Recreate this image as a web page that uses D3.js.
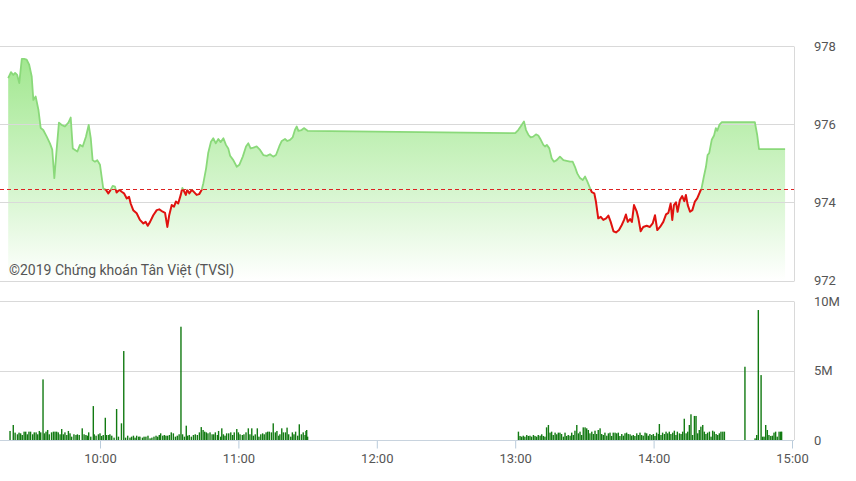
<!DOCTYPE html>
<html>
<head>
<meta charset="utf-8">
<script src="https://cdn.jsdelivr.net/npm/d3@7/dist/d3.min.js"></script>
<style>
  html, body { margin: 0; padding: 0; background: #fff; }
  svg { display: block; }
  text { font-family: Roboto, "Liberation Sans", sans-serif; }
</style>
</head>
<body>
<svg id="chart" width="856" height="481"></svg>
<script>
// ---- DATA (times are minutes after 09:00) ----
const referenceLevel = 974.33;

const priceTimes = [
  20.2, 21.4, 22.4, 23.2, 24.1, 25.0, 26.1, 27.1, 28.2, 29.3, 30.4, 31.1, 32.1, 33.3, 34.3, 35.4, 36.9, 38.3, 39.3, 40.2,
  41.2, 42.2, 43.4, 44.8, 46.3, 47.3, 48.2, 49.2, 50.2, 51.3, 52.5, 53.9, 55.1, 56.0, 56.8, 57.8, 58.8, 60.0, 60.7, 61.4,
  62.6, 63.6, 64.6, 65.5, 66.5, 67.2, 68.4, 69.4, 70.4, 71.6, 72.6, 73.3, 74.4, 75.9, 77.3, 78.8, 79.8, 80.7, 81.7, 83.1,
  84.6, 85.7, 87.2, 88.2, 89.2, 90.0, 91.1, 92.1, 92.9, 93.9, 95.0, 95.7, 96.4, 97.2, 97.8, 98.7, 99.8, 100.8, 101.9, 103.0,
  104.1, 104.8, 106.0, 106.9, 108.1, 109.1, 110.2, 111.3, 112.3, 113.5, 114.6, 115.6, 116.4, 117.8, 119.3, 120.4, 121.9, 123.3, 124.3, 125.3,
  126.5, 127.9, 129.4, 130.8, 132.3, 133.7, 135.1, 136.3, 137.7, 138.8, 140.2, 141.2, 142.4, 143.5, 144.5, 145.3, 146.0, 147.4, 148.4, 150.0,
  240.0, 241.3, 242.8, 243.8, 244.7, 245.7, 246.7, 247.8, 249.0, 250.0, 251.1, 252.2, 252.9, 253.7, 254.8, 255.8, 256.8, 258.0, 259.4, 260.9,
  262.3, 263.8, 264.9, 265.9, 266.9, 268.1, 269.3, 270.3, 271.3, 272.4, 273.2, 274.3, 275.0, 276.0, 277.1, 278.2, 279.4, 280.4, 281.4, 282.6,
  283.7, 285.0, 286.2, 287.2, 288.0, 288.8, 289.8, 290.6, 291.5, 292.7, 293.4, 294.4, 295.5, 297.0, 298.4, 299.6, 300.6, 301.6, 302.8, 304.2,
  305.4, 306.4, 307.4, 308.1, 308.8, 309.7, 310.4, 311.4, 312.4, 313.3, 314.0, 314.8, 315.8, 316.8, 317.9, 318.9, 320.1, 320.8, 321.8, 322.7,
  323.4, 324.1, 325.2, 326.2, 327.0, 327.6, 328.5, 329.5, 343.9, 344.9, 345.7, 357.0
];
const priceValues = [
  977.18, 977.33, 977.26, 977.31, 977.26, 977.05, 977.67, 977.67, 977.65, 977.52, 977.22, 976.62, 976.71, 976.37, 975.90, 975.85, 975.68, 975.51, 975.35, 974.62,
  975.35, 976.04, 975.98, 975.94, 976.04, 976.17, 975.38, 975.34, 975.30, 975.47, 975.43, 975.68, 975.98, 975.64, 975.08, 975.04, 975.08, 974.96, 974.66, 974.36,
  974.32, 974.23, 974.32, 974.42, 974.40, 974.25, 974.32, 974.27, 974.23, 974.10, 974.14, 973.97, 973.80, 973.72, 973.55, 973.46, 973.50, 973.40, 973.50, 973.67,
  973.80, 973.82, 973.76, 973.73, 973.37, 973.67, 973.93, 973.89, 974.02, 973.97, 974.19, 974.37, 974.29, 974.19, 974.32, 974.23, 974.32, 974.26, 974.19, 974.21,
  974.32, 974.49, 974.87, 975.26, 975.55, 975.64, 975.51, 975.62, 975.54, 975.64, 975.47, 975.38, 975.19, 975.08, 974.91, 974.96, 975.17, 975.43, 975.51, 975.38,
  975.40, 975.43, 975.34, 975.21, 975.19, 975.23, 975.17, 975.21, 975.43, 975.57, 975.62, 975.57, 975.60, 975.66, 975.85, 975.94, 975.83, 975.85, 975.90, 975.83,
  975.77, 975.85, 975.98, 976.07, 975.85, 975.73, 975.66, 975.68, 975.74, 975.71, 975.60, 975.47, 975.43, 975.47, 975.38, 975.13, 975.04, 975.08, 975.17, 975.08,
  975.06, 975.04, 975.04, 974.91, 974.74, 974.62, 974.57, 974.66, 974.53, 974.37, 974.26, 974.23, 974.02, 973.59, 973.63, 973.55, 973.59, 973.66, 973.50, 973.26,
  973.23, 973.29, 973.42, 973.55, 973.69, 973.50, 973.57, 973.50, 973.93, 973.76, 973.59, 973.26, 973.37, 973.40, 973.37, 973.46, 973.67, 973.29, 973.37, 973.50,
  973.69, 973.73, 973.97, 973.55, 973.93, 974.00, 973.76, 974.06, 974.16, 974.03, 974.19, 973.93, 973.76, 973.80, 974.02, 974.10, 974.27, 974.36, 974.66, 974.91,
  975.21, 975.26, 975.60, 975.71, 975.90, 975.83, 975.98, 976.05, 976.05, 975.73, 975.36, 975.36
];

const volumeTimes = [
  21.0, 22.4, 23.2, 24.2, 24.9, 25.6, 26.3, 27.1, 27.8, 28.5, 29.2, 29.9, 30.8, 31.5, 32.3, 33.0, 33.7, 34.3, 35.3, 35.9,
  36.6, 37.3, 38.0, 39.0, 39.8, 40.5, 41.2, 41.9, 42.7, 43.4, 44.1, 44.8, 45.6, 46.3, 47.0, 47.7, 48.7, 49.6, 50.2, 51.0,
  52.3, 53.1, 53.9, 54.5, 55.1, 56.0, 57.1, 57.5, 58.3, 59.3, 60.0, 60.7, 61.4, 62.3, 62.9, 63.8, 64.3, 65.1, 66.1, 67.2,
  68.0, 69.3, 70.3, 71.1, 72.0, 73.0, 73.7, 74.5, 75.2, 75.9, 76.8, 77.3, 78.4, 79.1, 79.9, 80.8, 81.7, 82.5, 83.4, 84.3,
  85.0, 85.7, 86.3, 87.2, 87.9, 88.6, 89.3, 90.1, 90.9, 91.8, 92.7, 93.5, 94.3, 95.1, 95.8, 96.6, 97.4, 98.0, 98.7, 99.6,
  100.5, 101.3, 102.2, 103.1, 103.9, 104.7, 105.4, 106.1, 106.8, 107.7, 108.6, 109.3, 110.0, 110.9, 111.4, 112.3, 112.8, 113.5, 114.2, 114.9,
  115.8, 116.7, 117.5, 118.2, 119.3, 120.0, 120.7, 121.7, 122.4, 123.3, 124.3, 125.0, 125.8, 126.5, 127.3, 128.2, 128.9, 129.7, 130.5, 131.2,
  132.0, 132.7, 133.4, 134.3, 135.1, 136.0, 136.7, 137.5, 138.0, 138.8, 139.5, 140.4, 141.1, 141.8, 142.7, 143.4, 144.1, 144.8, 145.7, 146.4,
  147.3, 148.1, 148.9, 149.3, 149.6, 150.0,
  241.4, 242.1, 242.8, 243.5, 244.2, 245.0, 245.7, 246.4, 247.1, 247.9, 248.6, 249.3, 250.0, 250.8, 251.5, 252.2, 252.9, 253.6, 254.4, 255.1,
  255.8, 256.5, 257.3, 258.0, 258.7, 259.4, 260.1, 260.9, 261.6, 262.3, 263.0, 263.8, 264.5, 265.2, 265.9, 266.7, 267.4, 268.1, 268.8, 269.5,
  270.3, 271.0, 271.7, 272.4, 273.2, 273.9, 274.6, 275.3, 276.0, 276.8, 277.5, 278.2, 278.9, 279.7, 280.4, 281.1, 281.8, 282.5, 283.3, 284.0,
  284.7, 285.4, 286.2, 286.9, 287.6, 288.3, 289.0, 289.8, 290.5, 291.2, 291.9, 292.7, 293.4, 294.1, 294.8, 295.5, 296.3, 297.0, 297.7, 298.4,
  299.2, 299.9, 300.6, 301.3, 302.1, 302.5, 303.2, 303.9, 304.7, 305.4, 306.1, 306.8, 307.5, 308.3, 309.0, 309.7, 310.3, 311.2, 311.9, 312.6,
  313.3, 314.1, 314.8, 315.5, 316.2, 316.9, 317.7, 318.4, 319.1, 319.8, 320.5, 321.3, 322.0, 322.7, 323.4, 324.2, 324.9, 325.6, 326.3, 327.1,
  327.8, 328.5, 329.2, 330.0, 330.7, 339.6, 344.0, 344.7, 345.4, 346.6, 347.3, 347.9, 348.6, 349.3, 350.0, 350.8, 351.5, 352.2, 352.9, 353.6,
  354.4, 355.1, 355.5
];
const volumeValues = [ // millions of shares
  0.65, 1.08, 0.53, 0.41, 0.53, 0.48, 0.36, 0.60, 0.60, 0.41, 0.60, 0.60, 0.41, 0.55, 0.55, 0.41, 0.65, 0.55, 4.36, 0.48,
  0.60, 0.72, 0.41, 0.55, 0.60, 0.60, 0.60, 0.55, 0.41, 0.79, 0.41, 0.55, 0.36, 0.65, 0.48, 0.24, 0.41, 0.36, 0.41, 0.36,
  0.84, 0.41, 0.36, 0.31, 0.55, 0.24, 2.44, 0.41, 0.31, 0.41, 0.48, 0.29, 0.36, 1.60, 0.36, 0.36, 0.41, 0.31, 0.17, 2.23,
  0.24, 1.20, 6.40, 0.17, 0.31, 0.17, 0.24, 0.31, 0.17, 0.31, 0.24, 0.24, 0.17, 0.24, 0.24, 0.31, 0.12, 0.17, 0.24, 0.31,
  0.24, 0.36, 0.48, 0.31, 0.36, 0.31, 0.31, 0.36, 0.55, 0.48, 0.24, 0.31, 0.41, 8.15, 0.41, 0.24, 1.03, 0.31, 0.36, 0.24,
  0.36, 0.41, 0.36, 0.55, 0.93, 0.72, 0.60, 0.55, 0.48, 0.55, 0.41, 0.41, 0.55, 0.36, 0.65, 0.24, 0.84, 0.41, 0.31, 0.48,
  0.48, 0.55, 0.36, 0.55, 0.79, 0.55, 0.41, 0.36, 0.41, 0.55, 0.84, 0.41, 0.84, 0.31, 0.41, 0.84, 0.24, 0.41, 0.48, 0.41,
  0.55, 0.60, 0.60, 0.55, 1.20, 0.55, 0.65, 0.31, 0.41, 0.84, 0.55, 0.55, 0.89, 0.41, 0.24, 0.55, 0.41, 0.60, 0.31, 1.13,
  0.41, 0.55, 0.36, 0.65, 0.72, 0.24,
  0.60, 0.29, 0.24, 0.31, 0.24, 0.36, 0.29, 0.31, 0.24, 0.36, 0.29, 0.24, 0.36, 0.31, 0.41, 0.29, 0.24, 0.91, 1.08, 0.53,
  0.60, 0.36, 0.53, 0.41, 0.53, 0.53, 0.43, 0.24, 0.53, 0.29, 0.36, 0.31, 0.53, 0.36, 0.67, 1.08, 0.48, 0.60, 0.36, 0.91,
  0.91, 0.84, 0.72, 0.48, 0.60, 0.43, 0.67, 0.43, 0.72, 0.84, 0.43, 0.36, 0.53, 0.31, 0.48, 0.53, 0.29, 0.53, 0.53, 0.48,
  0.53, 0.29, 0.43, 0.31, 0.48, 0.53, 0.43, 0.41, 0.31, 0.36, 0.29, 0.48, 0.36, 0.53, 0.36, 0.31, 0.53, 0.48, 0.31, 0.43,
  0.36, 0.43, 0.29, 0.53, 0.43, 1.15, 0.36, 0.53, 0.43, 0.60, 0.48, 0.60, 0.43, 0.53, 0.67, 0.36, 0.60, 0.48, 0.43, 0.60,
  1.53, 0.48, 0.60, 1.08, 1.85, 0.36, 1.73, 1.73, 0.48, 0.72, 0.96, 1.08, 0.60, 0.43, 0.53, 0.60, 0.24, 0.67, 0.60, 0.43,
  0.36, 0.48, 0.60, 0.60, 0.60, 5.27, 0.12, 0.36, 9.35, 4.67, 0.24, 0.24, 1.08, 0.72, 0.36, 0.29, 0.31, 0.53, 0.60, 0.24,
  0.60, 0.60, 0.60
];

const priceTicks = [972, 974, 976, 978];
const volumeTicks = [0, 5, 10];
const volumeTickLabels = ["0", "5M", "10M"];
const timeTicks = [10, 11, 12, 13, 14, 15];
const watermark = "©2019 Chứng khoán Tân Việt (TVSI)";

// ---- SCALES ----
const base = new Date(2019, 0, 2, 9, 0, 0);
const toDate = m => new Date(base.getTime() + m * 60000);

const x = d3.scaleTime().domain([toDate(60), toDate(360)]).range([100, 792]);
const yP = d3.scaleLinear().domain([972, 978]).range([280.5, 46]);
const yV = d3.scaleLinear().domain([0, 10]).range([440, 301]);

const plotRight = 794;
const svg = d3.select("#chart");
const defs = svg.append("defs");

const grad = defs.append("linearGradient").attr("id", "areaGrad")
  .attr("gradientUnits", "userSpaceOnUse").attr("x1", 0).attr("x2", 0)
  .attr("y1", yP(978)).attr("y2", yP(972));
grad.append("stop").attr("offset", "0%").attr("stop-color", "#9de68a");
grad.append("stop").attr("offset", "60%").attr("stop-color", "#d4f5cc");
grad.append("stop").attr("offset", "100%").attr("stop-color", "#ffffff");

const refY = yP(referenceLevel);
defs.append("clipPath").attr("id", "clipAbove").append("rect")
  .attr("x", 0).attr("y", 0).attr("width", plotRight).attr("height", refY);
defs.append("clipPath").attr("id", "clipBelow").append("rect")
  .attr("x", 0).attr("y", refY).attr("width", plotRight).attr("height", 300 - refY);

const gridColor = "#d9d9d9";

// ---- PRICE PANEL ----
const priceData = priceTimes.map((t, i) => ({ t: toDate(t), v: priceValues[i] }));

svg.append("path").datum(priceData)
  .attr("fill", "url(#areaGrad)")
  .attr("d", d3.area().x(d => x(d.t)).y0(yP(972)).y1(d => yP(d.v)));

// grid lines
svg.append("g").selectAll("line").data(priceTicks).join("line")
  .attr("x1", 0).attr("x2", plotRight)
  .attr("y1", d => Math.round(yP(d)) + 0.5).attr("y2", d => Math.round(yP(d)) + 0.5)
  .attr("stroke", gridColor).attr("stroke-width", 1);
svg.append("line").attr("x1", plotRight + 0.5).attr("x2", plotRight + 0.5)
  .attr("y1", Math.round(yP(978)) + 0.5).attr("y2", Math.round(yP(972)) + 0.5)
  .attr("stroke", gridColor);

// reference line
svg.append("line").attr("x1", 0).attr("x2", plotRight)
  .attr("y1", Math.round(refY) + 0.5).attr("y2", Math.round(refY) + 0.5)
  .attr("stroke", "#dd2222").attr("stroke-width", 1).attr("stroke-dasharray", "4,3");

const lineGen = d3.line().x(d => x(d.t)).y(d => yP(d.v));
svg.append("path").datum(priceData).attr("clip-path", "url(#clipAbove)")
  .attr("fill", "none").attr("stroke", "#8ad97a").attr("stroke-width", 1.8)
  .attr("stroke-linejoin", "round").attr("d", lineGen);
svg.append("path").datum(priceData).attr("clip-path", "url(#clipBelow)")
  .attr("fill", "none").attr("stroke", "#e0120f").attr("stroke-width", 2)
  .attr("stroke-linejoin", "round").attr("d", lineGen);

// price labels
svg.append("g").selectAll("text").data(priceTicks).join("text")
  .attr("x", 814).attr("y", d => yP(d)).attr("dy", "0.35em")
  .attr("font-size", 13).attr("fill", "#555")
  .text(d => d);

// watermark
svg.append("text").attr("x", 9).attr("y", 275)
  .attr("font-size", 14).attr("fill", "#555").text(watermark);

// ---- VOLUME PANEL ----
svg.append("g").selectAll("line").data([5, 10]).join("line")
  .attr("x1", 0).attr("x2", plotRight)
  .attr("y1", d => Math.round(yV(d)) + 0.5).attr("y2", d => Math.round(yV(d)) + 0.5)
  .attr("stroke", gridColor);
svg.append("line").attr("x1", plotRight + 0.5).attr("x2", plotRight + 0.5)
  .attr("y1", Math.round(yV(10)) + 0.5).attr("y2", yV(0))
  .attr("stroke", gridColor);

const volData = volumeTimes.map((t, i) => ({ t: toDate(t), v: volumeValues[i] }));
svg.append("g").selectAll("rect").data(volData).join("rect")
  .attr("x", d => x(d.t) - 0.7).attr("width", 1.4)
  .attr("y", d => yV(d.v)).attr("height", d => yV(0) - yV(d.v))
  .attr("fill", "#127a12");

svg.append("g").selectAll("text").data(volumeTicks).join("text")
  .attr("x", 814).attr("y", d => yV(d)).attr("dy", "0.35em")
  .attr("font-size", 13).attr("fill", "#555")
  .text((d, i) => volumeTickLabels[i]);

// x axis
const xAxis = d3.axisBottom(x)
  .tickValues(timeTicks.map(h => toDate((h - 9) * 60)))
  .tickFormat(d3.timeFormat("%H:%M"))
  .tickSize(8).tickSizeOuter(0);
const gx = svg.append("g").attr("transform", `translate(0,${yV(0) + 0.5})`).call(xAxis);
gx.select(".domain").remove();
gx.append("line").attr("x1", 0).attr("x2", plotRight).attr("stroke", "#c8d3de");
gx.selectAll(".tick line").attr("stroke", "#b9cbdb");
gx.selectAll(".tick text").attr("font-size", 13).attr("fill", "#555")
  .attr("font-family", "Roboto, sans-serif").attr("dy", "0.9em");
</script>
</body>
</html>
